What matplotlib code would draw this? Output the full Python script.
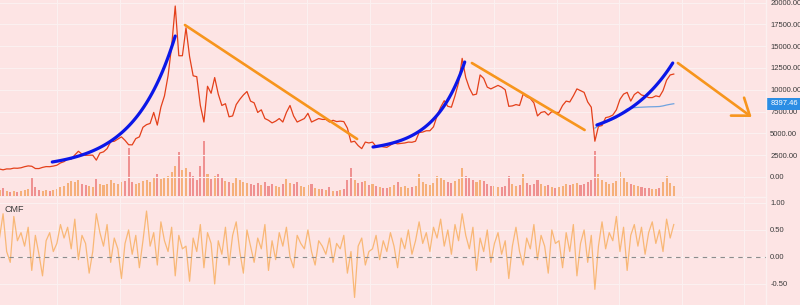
import numpy as np
import pandas as pd
import matplotlib
matplotlib.use("Agg")
import matplotlib.pyplot as plt
import matplotlib.dates as mdates

plt.rcParams["font.family"] = ["Liberation Sans", "DejaVu Sans"]

# weekly closes (USD), weeks ending Sunday from 2017-01-08
price_2017 = [910, 820, 925, 920, 1015, 1000, 1055, 1180, 1270, 1230, 970, 965,
              1100, 1190, 1180, 1250, 1350, 1610, 1760, 2050, 2050, 2520, 2950, 2620,
              2480, 2500, 2500, 1930, 2750, 2880, 3250, 4050, 4090, 4350, 4600, 4200,
              3700, 3680, 4400, 4600, 5700, 6000, 6140, 7400, 5950, 8000, 9300, 11600,
              15000, 19600, 13900, 13900]
price_2018 = [17100, 13800, 11600, 11500, 8200, 6300, 10400, 9600, 11400, 9500, 8200, 8400,
              6900, 7000, 8300, 8900, 9400, 9800, 8700, 8500, 7400, 7700, 6700, 6500,
              6200, 6400, 6700, 6300, 7400, 8200, 7000, 6300, 6500, 6700, 7300, 6300,
              6500, 6700, 6600, 6600, 6300, 6500, 6350, 6400, 6350, 5600, 4000, 4100,
              3600, 3250, 4000, 3900]
price_2019 = [4000, 3500, 3550, 3450, 3400, 3650, 3900, 3800, 3850, 3900, 4000, 3980,
              4100, 5100, 5150, 5300, 5300, 5750, 7000, 8000, 8750, 8100, 8000, 9300,
              10800, 13600, 11400, 10200, 9400, 9500, 11700, 11300, 10300, 10100, 10300, 10500,
              10300, 10000, 8100, 8150, 8300, 8200, 9500, 9200, 9000, 8500, 7000, 7400,
              7500, 7100, 7500, 7400]
price_2020 = [7400, 8200, 8700, 8600, 9300, 10100, 9900, 9700, 8600, 8000, 4100, 5800,
              5900, 6800, 6900, 7100, 7700, 8900, 9500, 9700, 8700, 9450, 9750, 9400,
              9300, 9100, 9100, 9300, 9200, 9900, 11100, 11700, 11800]
price = price_2017 + price_2018 + price_2019 + price_2020

# weekly volume (k BTC)
volume = [6, 8, 5, 4, 5, 4, 5, 6, 7, 18, 9, 6, 5, 6, 5, 6, 7, 9, 10, 13, 15, 14, 16, 12, 11, 10,
          9, 17, 12, 11, 12, 16, 13, 12, 14, 15, 48, 14, 12, 13, 15, 16, 14, 19, 22, 17, 18, 20,
          24, 30, 44, 26,
          28, 24, 20, 16, 30, 55, 22, 17, 20, 22, 18, 15, 14, 13, 19, 16, 14, 13, 12, 11, 13, 11,
          14, 10, 12, 10, 9, 12, 17, 13, 12, 14, 10, 9, 11, 12, 8, 7, 7, 6, 9, 5, 5, 6, 7, 16, 28,
          16, 13, 14, 15, 11,
          12, 10, 9, 8, 8, 9, 11, 14, 9, 10, 8, 9, 10, 22, 14, 12, 11, 13, 20, 18, 16, 14, 13, 15,
          17, 28, 20, 18, 16, 14, 16, 15, 12, 10, 10, 9, 9, 10, 20, 12, 10, 11, 22, 13, 11, 12, 16,
          12, 10, 11, 9, 8,
          9, 10, 12, 11, 12, 13, 11, 12, 14, 16, 45, 22, 16, 14, 12, 13, 15, 24, 18, 14, 12, 11,
          10, 9, 8, 8, 7, 7, 8, 14, 20, 13, 10]

cmf = [0.35, 0.80, 0.10, -0.10, 0.75, 0.30, 0.45, 0.20, 0.55, -0.25, 0.40, 0.05, -0.35, 0.30,
       0.45, 0.10, 0.25, 0.60, 0.35, 0.55, 0.15, 0.70, -0.05, 0.40, 0.25, -0.30, 0.10, 0.80,
       0.45, 0.20, 0.60, -0.10, 0.35, 0.15, -0.40, 0.25, 0.50, 0.05, 0.40, -0.20, 0.30, 0.85,
       0.20, 0.45, -0.15, 0.65, 0.30, 0.10, 0.55, -0.35, 0.40, 0.15,
       0.20, -0.45, 0.35, 0.10, 0.60, -0.20, 0.45, 0.25, -0.50, 0.30, 0.05, 0.55, -0.15, 0.40,
       0.65, 0.10, -0.30, 0.50, 0.20, -0.10, 0.35, 0.15, 0.60, -0.25, 0.30, -0.05, 0.45, 0.20,
       0.55, 0.00, -0.20, 0.40, 0.25, 0.15, 0.50, 0.10, -0.15, 0.30, 0.20, 0.05, 0.35, -0.10,
       0.25, 0.15, 0.40, -0.30, 0.10, -0.75, 0.20, 0.35, -0.15, 0.10,
       0.15, 0.40, -0.05, 0.30, 0.10, 0.45, 0.20, -0.20, 0.35, 0.15, 0.50, 0.05, 0.30, 0.65,
       0.25, 0.45, 0.10, 0.55, 0.35, 0.70, 0.20, 0.50, 0.05, 0.60, 0.30, 0.80, 0.40, 0.15,
       0.55, -0.25, 0.35, 0.10, 0.50, -0.10, 0.25, 0.45, 0.05, 0.30, -0.40, 0.20, 0.55, 0.10,
       -0.15, 0.35, 0.15, 0.60, -0.05, 0.40, 0.20, -0.30, 0.50, 0.25,
       0.30, -0.20, 0.45, 0.10, 0.60, -0.35, 0.25, 0.50, -0.10, 0.40, -0.60, 0.20, 0.65, 0.15,
       0.45, 0.30, 0.75, 0.10, 0.55, -0.25, 0.40, 0.60, 0.20, 0.55, 0.05, 0.45, 0.65, 0.25,
       0.50, 0.10, 0.70, 0.35, 0.60]

# moving average shown after the March 2020 crash
ma_vals = [5600, 5900, 6100, 6300, 6450, 6600, 6800, 7200, 7500, 7800, 7900, 7950, 7980,
           8000, 8020, 8040, 8050, 8060, 8080, 8150, 8250, 8330, 8397.46]
last_label = "8397.46"

# hand drawn marks: (start date, start price, end date, end price)
down_lines = [("2018-01-05", 17420, "2018-12-07", 4355),
              ("2019-07-19", 13066, "2020-02-24", 5387)]
arrow_line = ("2020-08-24", 13066, "2021-01-15", 6877)
# growth arcs: (start date, start price, end date, end price, curvature)
arcs = [("2017-04-21", 1719, "2017-12-17", 16160, 3.0),
        ("2019-01-07", 3438, "2019-07-05", 13180, 3.0),
        ("2020-03-19", 5960, "2020-08-14", 13066, 1.5)]

price_ticks = np.arange(0, 20001, 2500)
cmf_ticks = [1.0, 0.5, 0.0, -0.5]

bg = "#fde4e4"
grid_c = "#fbf0f0"
txt_c = "#3a3a3a"

dates = pd.date_range("2017-01-08", periods=len(price), freq="W-SUN")
vdates = pd.date_range("2017-01-08", periods=len(volume), freq="W-SUN")
cdates = pd.date_range("2017-01-08", periods=len(cmf), freq="W-SUN")
mdates_ma = pd.date_range("2020-03-15", periods=len(ma_vals), freq="W-SUN")

fig = plt.figure(figsize=(8, 3.05), dpi=100, facecolor=bg)
ax = fig.add_axes([0, 109 / 305, 766 / 800, 196 / 305])
ax2 = fig.add_axes([0, 0, 766 / 800, 108 / 305], sharex=ax)

# volume on its own scale at the bottom of the price panel
axv = ax.twinx()
axv.set_ylim(0, max(volume) * 196 / 55)
axv.axis("off")

xlim = (pd.Timestamp("2017-01-09"), pd.Timestamp("2021-02-12"))
grid_dates = [d for d in pd.date_range("2017-01-01", "2021-03-01", freq="MS") if d.month in (1, 5, 9)]

for a in (ax, ax2):
    a.set_facecolor(bg)
    for s in a.spines.values():
        s.set_visible(False)
    a.yaxis.tick_right()
    a.tick_params(axis="y", length=0, labelsize=5.5, labelcolor=txt_c, pad=3)
    a.tick_params(axis="x", length=0, labelbottom=False)
    a.set_xticks(grid_dates)
    a.grid(True, color=grid_c, lw=0.8)
    a.set_axisbelow(True)
    a.set_xlim(xlim)

chg = np.diff([price[0]] + price)
vcol = ["#f4a460" if c >= 0 else "#ec7c7c" for c in chg]
axv.bar(vdates, volume, width=4, color=vcol, alpha=0.8, linewidth=0)

ax.set_zorder(axv.get_zorder() + 1)
ax.patch.set_visible(False)
axv.patch.set_visible(False)
ax.plot(dates, price, color="#e4401a", lw=0.9, zorder=3)
ax.plot(mdates_ma, ma_vals, color="#6fa3e0", lw=0.9, zorder=3)

for d0, p0, d1, p1 in down_lines:
    ax.plot([pd.Timestamp(d0), pd.Timestamp(d1)], [p0, p1], color="#f7951d", lw=1.9,
            solid_capstyle="round", zorder=4)
d0, p0, d1, p1 = arrow_line
ax.annotate("", xy=(mdates.date2num(pd.Timestamp(d1)), p1),
            xytext=(mdates.date2num(pd.Timestamp(d0)), p0),
            arrowprops=dict(arrowstyle="->,head_length=0.55,head_width=0.4",
                            color="#f7951d", lw=1.9, mutation_scale=20,
                            shrinkA=0, shrinkB=0), zorder=4)

for d0, p0, d1, p1, k in arcs:
    x0 = mdates.date2num(pd.Timestamp(d0))
    x1 = mdates.date2num(pd.Timestamp(d1))
    t = np.linspace(0, 1, 60)
    f = (np.exp(k * t) - 1) / (np.exp(k) - 1)
    ax.plot(x0 + (x1 - x0) * t, p0 + (p1 - p0) * f, color="#0b17e8", lw=2.3,
            solid_capstyle="round", zorder=5)

ax.set_ylim(-2180, 20290)
ax.set_yticks(price_ticks)
ax.set_yticklabels([f"{v:.2f}" for v in price_ticks])

ax.annotate(last_label, xy=(1.0, ma_vals[-1]), xycoords=("axes fraction", "data"),
            xytext=(3, 0), textcoords="offset points", ha="left", va="center",
            fontsize=5.5, color="white", zorder=6, annotation_clip=False,
            bbox=dict(boxstyle="square,pad=0.35", fc="#2b8de4", ec="none"))

ax2.plot(cdates, cmf, color="#f8b063", lw=0.9, alpha=0.85)
ax2.axhline(0, color="#8c8c8c", lw=0.8, ls=(0, (4, 4)))
ax2.set_ylim(-0.89, 1.11)
ax2.set_yticks(cmf_ticks)
ax2.set_yticklabels([f"{v:.2f}" for v in cmf_ticks])
ax2.text(0.006, 0.93, "CMF", transform=ax2.transAxes, fontsize=6.5, color=txt_c,
         ha="left", va="top")

# panel separators
fig.add_artist(plt.Line2D([0, 766 / 800], [108.5 / 305] * 2, color=grid_c, lw=1.0))
fig.add_artist(plt.Line2D([766 / 800] * 2, [0, 1], color=grid_c, lw=1.0))

fig.savefig("out.png", dpi=100, facecolor=bg)
